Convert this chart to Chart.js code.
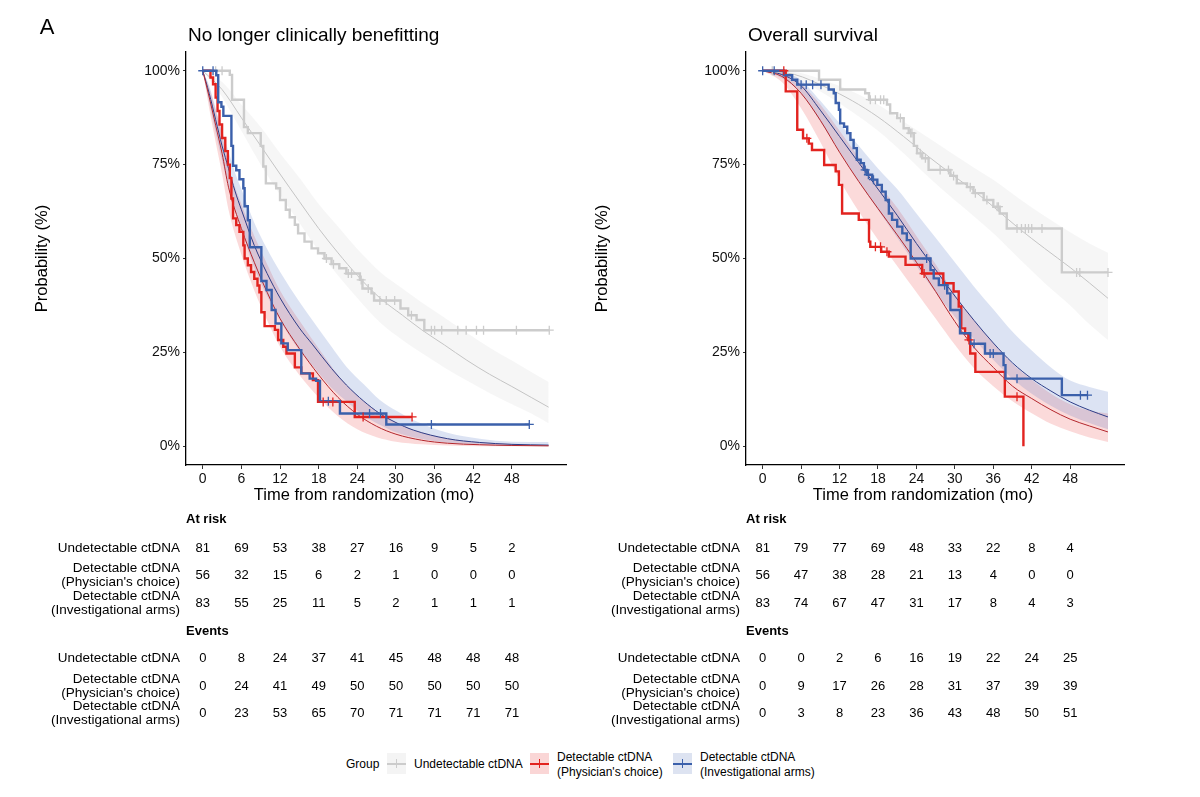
<!DOCTYPE html>
<html>
<head>
<meta charset="utf-8">
<script src="https://cdn.jsdelivr.net/npm/chart.js@4.4.0/dist/chart.umd.min.js"></script>
<style>
  body { margin: 0; background: #fff; font-family: "Liberation Sans", Arial, sans-serif; }
  #wrap { position: relative; width: 1200px; height: 797px; overflow: hidden; }
  canvas.panel { position: absolute; top: 0; }
  .lg { position: absolute; font-size: 12px; line-height: 14.5px; color: #000; white-space: nowrap; }
  .key { position: absolute; top: 753px; width: 19px; height: 21px; }
  .key i { position: absolute; left: 0; top: 9.5px; width: 19px; height: 2px; }
  .key b { position: absolute; left: 9px; top: 6px; width: 1.3px; height: 9px; }
</style>
</head>
<body>
<div id="wrap">
  <canvas id="nlcb" class="panel" width="580" height="740" style="left:0"></canvas>
  <canvas id="os" class="panel" width="580" height="740" style="left:560px"></canvas>

  <div class="lg" style="left:346px;top:757px">Group</div>
  <div class="key" style="left:387px;background:#f4f4f4"><i style="background:#cccccc"></i><b style="background:#cccccc"></b></div>
  <div class="lg" style="left:414px;top:757px">Undetectable ctDNA</div>
  <div class="key" style="left:530px;background:#fad6d6"><i style="background:#e2231f"></i><b style="background:#e2231f"></b></div>
  <div class="lg" style="left:557px;top:750px">Detectable ctDNA<br>(Physician's choice)</div>
  <div class="key" style="left:673px;background:#dde3f1"><i style="background:#3b60ab"></i><b style="background:#3b60ab"></b></div>
  <div class="lg" style="left:700px;top:750px">Detectable ctDNA<br>(Investigational arms)</div>
</div>

<script>
// axis ticks
const timeTicks = [0, 6, 12, 18, 24, 30, 36, 42, 48];
const probTicks = [0, 0.25, 0.5, 0.75, 1];
const probTickLabels = ['0%', '25%', '50%', '75%', '100%'];
const groupLabels = [
  ['Undetectable ctDNA'],
  ['Detectable ctDNA', "(Physician's choice)"],
  ['Detectable ctDNA', '(Investigational arms)'],
];

// ---- No longer clinically benefitting: KM steps [month, survival]
const nlcbUndetKM = [[0,1],[4.2,0.989],[4.55,0.923],[6.4,0.85],[7.0,0.834],[9.0,0.80],[9.4,0.745],[9.8,0.70],
  [11.4,0.687],[12.0,0.656],[12.9,0.63],[13.5,0.61],[14.3,0.59],[14.8,0.567],[15.8,0.545],[16.9,0.527],[17.9,0.514],
  [18.9,0.50],[20.0,0.485],[21.2,0.474],[22.3,0.46],[24.4,0.443],[24.8,0.42],[26.2,0.407],[26.6,0.388],[30.7,0.367],
  [31.9,0.349],[33.2,0.336],[34.4,0.309],[53.8,0.309]];
const nlcbPhysKM = [[0,1],[1.2,0.982],[1.6,0.964],[2.0,0.929],[2.3,0.893],[2.6,0.857],[3.0,0.821],[3.5,0.786],
  [3.9,0.75],[4.2,0.714],[4.45,0.66],[4.7,0.607],[5.2,0.589],[5.7,0.571],[6.3,0.535],[6.5,0.5],[7.0,0.482],[7.5,0.464],
  [8.0,0.446],[8.5,0.428],[8.8,0.41],[9.1,0.357],[9.6,0.32],[11.2,0.31],[11.7,0.283],[12.5,0.265],[13.0,0.247],
  [14.3,0.21],[15.3,0.194],[17.1,0.176],[17.9,0.118],[23.6,0.078],[32.5,0.078]];
const nlcbInvKM = [[0,1],[2.1,0.988],[2.4,0.916],[2.9,0.904],[3.2,0.88],[4.45,0.80],[4.7,0.747],[5.2,0.735],
  [5.7,0.711],[6.3,0.687],[6.5,0.639],[7.0,0.602],[7.3,0.53],[9.1,0.44],[9.9,0.416],[10.7,0.363],[11.3,0.327],
  [12.2,0.274],[13.2,0.256],[15.3,0.194],[16.6,0.18],[17.6,0.174],[18.2,0.12],[21.3,0.087],[28.5,0.058],[50.7,0.058]];
// censoring times (months)
const nlcbUndetCens = [2.0, 3.0, 19.2, 20.3, 22.6, 23.1, 24.6, 25.7, 27.5, 28.5, 29.8, 32.4, 35.5, 36.0, 37.1, 39.6, 40.9, 42.5, 43.6, 48.7, 53.8];
const nlcbPhysCens = [18.7, 20.2, 24.9, 32.5];
const nlcbInvCens = [0, 1.6, 19.5, 25.9, 27.6, 35.5, 50.7];
// fitted curves [month, estimate, lower, upper]
const nlcbUndetFit = [[0,1,1,1],[3,0.95,0.93,0.97],[6,0.875,0.84,0.91],[9,0.80,0.75,0.85],[12,0.725,0.67,0.78],
  [15,0.652,0.595,0.715],[18,0.58,0.52,0.645],[21,0.515,0.455,0.585],[24,0.455,0.395,0.525],[27.5,0.395,0.33,0.465],
  [31,0.349,0.283,0.42],[34,0.31,0.248,0.383],[37.5,0.27,0.21,0.343],[41,0.229,0.175,0.302],[44.5,0.192,0.142,0.263],
  [48,0.159,0.112,0.228],[51,0.13,0.087,0.198],[53.7,0.104,0.061,0.171]];
const nlcbPhysFit = [[0,1,1,1],[1,0.93,0.9,0.955],[2,0.855,0.81,0.895],[3,0.78,0.725,0.83],[4,0.69,0.63,0.745],
  [6,0.58,0.51,0.645],[8,0.49,0.415,0.56],[10,0.41,0.335,0.485],[12,0.34,0.265,0.415],[15,0.26,0.19,0.335],
  [18,0.19,0.13,0.26],[21,0.13,0.08,0.19],[24,0.085,0.045,0.135],[27,0.053,0.024,0.094],[30,0.032,0.012,0.064],
  [34,0.016,0.005,0.037],[38,0.008,0.002,0.021],[43,0.004,0,0.011],[48,0.002,0,0.006],[53.7,0.001,0,0.003]];
const nlcbInvFit = [[0,1,1,1],[1,0.94,0.915,0.96],[2,0.87,0.835,0.9],[3,0.80,0.76,0.84],[4,0.74,0.695,0.785],
  [5,0.68,0.63,0.73],[6,0.63,0.575,0.685],[8,0.535,0.475,0.595],[10,0.46,0.40,0.525],[12,0.395,0.335,0.465],
  [15,0.315,0.255,0.385],[17,0.272,0.215,0.336],[20,0.207,0.155,0.265],[22.3,0.163,0.12,0.212],[25,0.12,0.082,0.165],
  [27.5,0.087,0.057,0.123],[30,0.063,0.037,0.095],[32.7,0.043,0.024,0.07],[38,0.02,0.009,0.036],[43,0.01,0.004,0.02],
  [48,0.005,0.001,0.012],[53.7,0.003,0,0.011]];
// risk table
const nlcbRiskUndet = [81, 69, 53, 38, 27, 16, 9, 5, 2];
const nlcbRiskPhys = [56, 32, 15, 6, 2, 1, 0, 0, 0];
const nlcbRiskInv = [83, 55, 25, 11, 5, 2, 1, 1, 1];
const nlcbEventsUndet = [0, 8, 24, 37, 41, 45, 48, 48, 48];
const nlcbEventsPhys = [0, 24, 41, 49, 50, 50, 50, 50, 50];
const nlcbEventsInv = [0, 23, 53, 65, 70, 71, 71, 71, 71];

// ---- Overall survival
const osUndetKM = [[0,1],[8.8,0.976],[12.1,0.95],[16.0,0.94],[16.6,0.923],[19.4,0.91],[19.9,0.887],[21.0,0.874],
  [22.0,0.847],[22.8,0.834],[23.6,0.80],[24.1,0.78],[24.9,0.767],[25.9,0.736],[29.3,0.72],[30.3,0.70],[31.9,0.69],
  [32.9,0.674],[34.5,0.656],[36.0,0.638],[37.0,0.62],[38.1,0.58],[46.7,0.463],[53.9,0.463]];
const osPhysKM = [[0,1],[3.6,0.945],[5.4,0.843],[6.3,0.82],[7.2,0.806],[7.7,0.789],[9.6,0.749],[11.4,0.732],
  [11.9,0.696],[12.4,0.62],[15.0,0.603],[16.6,0.545],[16.8,0.531],[18.5,0.518],[19.7,0.505],[22.3,0.483],[24.9,0.46],
  [28.2,0.434],[29.8,0.412],[30.6,0.372],[31.0,0.314],[31.6,0.30],[32.1,0.283],[32.4,0.247],[33.2,0.198],[37.8,0.132],
  [40.7,0]];
const osInvKM = [[0,1],[3.3,0.988],[4.6,0.976],[5.4,0.963],[10.3,0.95],[11.1,0.94],[11.4,0.914],[11.9,0.896],
  [12.1,0.86],[12.7,0.851],[13.2,0.834],[13.7,0.816],[14.2,0.794],[14.7,0.763],[15.3,0.754],[15.8,0.736],[16.3,0.723],
  [17.1,0.71],[17.9,0.696],[18.6,0.678],[19.2,0.656],[19.7,0.62],[20.2,0.603],[21.0,0.585],[21.8,0.567],[22.5,0.549],
  [23.1,0.5],[26.2,0.469],[26.7,0.447],[27.5,0.429],[28.8,0.407],[29.3,0.363],[30.8,0.301],[32.4,0.273],[34.7,0.247],
  [37.6,0.216],[37.9,0.18],[46.7,0.136],[50.7,0.136]];
const osUndetCens = [1.5, 16.8, 17.6, 18.4, 18.9, 21.5, 23.1, 23.3, 24.6, 25.4, 27.7, 29.0, 29.8, 32.4, 33.2, 35.0,
  36.6, 36.8, 39.7, 40.4, 41.0, 41.5, 42.0, 43.6, 49.0, 49.5, 53.9];
const osPhysCens = [3.3, 6.9, 17.6, 18.4, 19.4, 25.2, 32.2, 39.7];
const osInvCens = [0, 1.8, 6.0, 6.8, 7.8, 9.1, 16.0, 16.5, 17.3, 25.6, 28.4, 33.0, 35.5, 36.0, 39.7, 49.6, 50.7];
const osUndetFit = [[0,1,1,1],[5,0.99,0.98,0.997],[10,0.955,0.935,0.972],[14,0.92,0.89,0.945],[18,0.877,0.84,0.91],
  [22,0.825,0.78,0.865],[26,0.77,0.715,0.82],[30,0.718,0.655,0.775],[33,0.68,0.612,0.742],[36,0.638,0.567,0.71],
  [40,0.58,0.5,0.66],[44,0.527,0.435,0.613],[48,0.476,0.375,0.57],[51,0.435,0.325,0.54],[53.9,0.394,0.283,0.515]];
const osPhysFit = [[0,1,1,1],[3,0.985,0.97,0.995],[6,0.94,0.9,0.965],[9,0.868,0.81,0.91],[12,0.783,0.71,0.84],
  [15,0.705,0.625,0.77],[18,0.633,0.55,0.7],[21,0.563,0.48,0.635],[24,0.49,0.41,0.56],[27,0.412,0.34,0.485],
  [30,0.332,0.27,0.405],[33,0.263,0.208,0.335],[36,0.21,0.16,0.275],[39,0.16,0.12,0.22],[42,0.127,0.088,0.177],
  [45,0.097,0.06,0.14],[48,0.072,0.04,0.112],[51,0.054,0.023,0.095],[53.9,0.038,0.011,0.087]];
const osInvFit = [[0,1,1,1],[3,0.99,0.98,0.997],[6,0.96,0.94,0.975],[9,0.895,0.865,0.92],[12,0.825,0.785,0.86],
  [15,0.755,0.705,0.8],[18,0.685,0.63,0.74],[21,0.615,0.555,0.685],[24,0.54,0.48,0.62],[27,0.47,0.41,0.555],
  [30,0.4,0.345,0.49],[33,0.335,0.285,0.425],[36,0.275,0.23,0.365],[39,0.222,0.18,0.305],[42,0.18,0.14,0.255],
  [45,0.147,0.108,0.21],[48,0.118,0.082,0.175],[51,0.096,0.062,0.158],[53.9,0.078,0.045,0.145]];
const osRiskUndet = [81, 79, 77, 69, 48, 33, 22, 8, 4];
const osRiskPhys = [56, 47, 38, 28, 21, 13, 4, 0, 0];
const osRiskInv = [83, 74, 67, 47, 31, 17, 8, 4, 3];
const osEventsUndet = [0, 0, 2, 6, 16, 19, 22, 24, 25];
const osEventsPhys = [0, 9, 17, 26, 28, 31, 37, 39, 39];
const osEventsInv = [0, 3, 8, 23, 36, 43, 48, 50, 51];

const FONT = '"Liberation Sans", Arial, sans-serif';
const seriesStyle = [
  { line: '#cccccc', fit: '#c4c4c4', band: 'rgba(200,200,200,0.16)' },
  { line: '#e2231f', fit: '#b3272d', band: 'rgba(232,48,48,0.18)' },
  { line: '#3b60ab', fit: '#2e3d87', band: 'rgba(60,100,190,0.18)' },
];

function survAt(steps, t) {
  let s = 1;
  for (const [tt, ss] of steps) if (tt <= t) s = ss;
  return s;
}

// titles, axis title and the risk tables, placed with the x scale
const panelText = {
  id: 'panelText',
  afterDraw(chart, args, opts) {
    const { ctx, chartArea, scales: { x } } = chart;
    ctx.save();
    ctx.fillStyle = '#000';
    ctx.textBaseline = 'middle';
    if (opts.tag) {
      ctx.font = '22px ' + FONT;
      ctx.textAlign = 'center';
      ctx.fillText(opts.tag, 47, 28);
    }
    ctx.font = '19px ' + FONT;
    ctx.textAlign = 'left';
    ctx.fillText(opts.title, chartArea.left + 2, 36);

    ctx.font = '16.5px ' + FONT;
    ctx.textAlign = 'center';
    ctx.fillText('Time from randomization (mo)', (chartArea.left + chartArea.right) / 2 - 12, 495);

    opts.tables.forEach(tb => {
      ctx.font = 'bold 13px ' + FONT;
      ctx.textAlign = 'left';
      ctx.fillText(tb.heading, chartArea.left, tb.y);
      tb.rows.forEach((row, i) => {
        const yy = tb.rowY[i];
        const lines = groupLabels[i];
        ctx.font = '13.5px ' + FONT;
        ctx.textAlign = 'right';
        lines.forEach((ln, j) => ctx.fillText(ln, chartArea.left - 6, yy + (j - (lines.length - 1) / 2) * 14));
        ctx.font = '13px ' + FONT;
        ctx.textAlign = 'center';
        row.forEach((v, k) => ctx.fillText(String(v), x.getPixelForValue(timeTicks[k]), yy));
      });
    });
    ctx.restore();
  }
};

function makePanel(id, title, tag, km, cens, fits, risk, events, rightPad) {
  const datasets = [];
  fits.forEach((f, i) => {
    datasets.push({
      data: f.map(r => ({ x: r[0], y: r[2] })), borderColor: 'rgba(0,0,0,0)', borderWidth: 1,
      pointRadius: 0, fill: false, cubicInterpolationMode: 'monotone', order: 20 - i
    });
    datasets.push({
      data: f.map(r => ({ x: r[0], y: r[3] })), borderColor: 'rgba(0,0,0,0)', borderWidth: 1,
      pointRadius: 0, fill: '-1', backgroundColor: seriesStyle[i].band, cubicInterpolationMode: 'monotone', order: 20 - i
    });
  });
  fits.forEach((f, i) => {
    datasets.push({
      data: f.map(r => ({ x: r[0], y: r[1] })), borderColor: seriesStyle[i].fit, borderWidth: 1,
      pointRadius: 0, fill: false, cubicInterpolationMode: 'monotone', order: 10
    });
  });
  km.forEach((steps, i) => {
    datasets.push({
      data: steps.map(([t, s]) => ({ x: t, y: s })), stepped: true, borderColor: seriesStyle[i].line,
      borderWidth: 2.4, pointRadius: 0, fill: false, order: 5 - i
    });
  });
  cens.forEach((ts, i) => {
    datasets.push({
      data: ts.map(t => ({ x: t, y: survAt(km[i], t) })), showLine: false, pointStyle: 'cross',
      pointRadius: 4.5, pointBorderWidth: 1.3, pointBorderColor: seriesStyle[i].line,
      pointBackgroundColor: seriesStyle[i].line, order: i === 0 ? 4 : 1
    });
  });

  const tickFont = { family: FONT, size: 14 };
  return new Chart(document.getElementById(id), {
    type: 'line',
    data: { datasets },
    plugins: [panelText],
    options: {
      responsive: false,
      animation: false,
      layout: { padding: { left: 0, top: 52, right: rightPad, bottom: 233 } },
      plugins: {
        legend: { display: false },
        tooltip: { enabled: false },
        panelText: {
          title, tag,
          tables: [
            { heading: 'At risk', y: 519, rowY: [548, 575, 603], rows: risk },
            { heading: 'Events', y: 631, rowY: [658, 686, 713], rows: events },
          ]
        }
      },
      scales: {
        x: {
          type: 'linear', min: -2.6, max: 56.4,
          afterBuildTicks: s => { s.ticks = timeTicks.map(v => ({ value: v })); },
          afterFit: s => { s.height = 42; },
          ticks: { autoSkip: false, maxRotation: 0, padding: 2, color: '#111', font: tickFont, callback: v => String(v) },
          grid: { drawOnChartArea: false, drawTicks: true, tickLength: 4, tickColor: '#333', tickWidth: 1 },
          border: { color: '#000', width: 1.3 }
        },
        y: {
          type: 'linear', min: -0.05, max: 1.05,
          afterBuildTicks: s => { s.ticks = probTicks.map(v => ({ value: v })); },
          afterFit: s => { s.width = 186; },
          ticks: { padding: 3, color: '#111', font: tickFont, callback: (v, idx) => probTickLabels[idx] },
          grid: { drawOnChartArea: false, drawTicks: true, tickLength: 3, tickColor: '#333', tickWidth: 1 },
          border: { color: '#000', width: 1.3 },
          title: { display: true, text: 'Probability (%)', color: '#000', font: { family: FONT, size: 16.5 }, padding: { top: 33, bottom: 0 } }
        }
      }
    }
  });
}

makePanel('nlcb', 'No longer clinically benefitting', 'A',
  [nlcbUndetKM, nlcbPhysKM, nlcbInvKM],
  [nlcbUndetCens, nlcbPhysCens, nlcbInvCens],
  [nlcbUndetFit, nlcbPhysFit, nlcbInvFit],
  [nlcbRiskUndet, nlcbRiskPhys, nlcbRiskInv],
  [nlcbEventsUndet, nlcbEventsPhys, nlcbEventsInv], 14);

makePanel('os', 'Overall survival', null,
  [osUndetKM, osPhysKM, osInvKM],
  [osUndetCens, osPhysCens, osInvCens],
  [osUndetFit, osPhysFit, osInvFit],
  [osRiskUndet, osRiskPhys, osRiskInv],
  [osEventsUndet, osEventsPhys, osEventsInv], 16);
</script>
</body>
</html>
